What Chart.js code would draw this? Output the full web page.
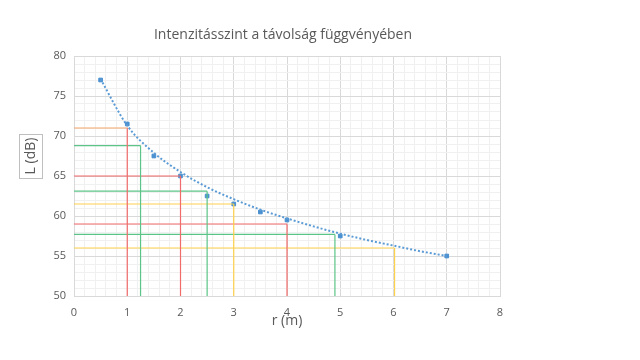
<!DOCTYPE html>
<html>
<head>
<meta charset="utf-8">
<script src="https://cdn.jsdelivr.net/npm/chart.js"></script>
<style>
    html, body { margin: 0; padding: 0; background: #fff; }
    #wrap { width: 640px; height: 360px; position: relative; }
</style>
</head>
<body>
<div id="wrap"><canvas id="chart"></canvas></div>
<script>
// measured points
const rValues = [0.5, 1, 1.5, 2, 2.5, 3, 3.5, 4, 5, 7];
const lValues = [77, 71.5, 67.5, 65, 62.5, 61.5, 60.5, 59.5, 57.5, 55];
// dotted trend line
const trendR = [0.5, 1, 1.5, 2, 2.5, 3, 3.5, 4, 4.5, 5, 5.5, 6, 6.5, 7];
const trendL = [77.1, 71.3, 67.9, 65.5, 63.6, 62.1, 60.8, 59.7, 58.7, 57.8, 57.0, 56.3, 55.6, 55.0];
// helper lines: horizontal from r=0, then down to the axis
const dropR = [1, 1.25, 2, 2.5, 3, 4, 4.9, 6.02];
const dropL = [71, 68.8, 65, 63.1, 61.5, 59, 57.7, 56];
const dropHColors = ['#f4a36b', '#5cc488', '#f26b6b', '#5cc488', '#ffd24d', '#f26b6b', '#5cc488', '#ffd24d'];
const dropVColors = ['#f26b6b', '#5cc488', '#f26b6b', '#5cc488', '#ffd24d', '#f26b6b', '#5cc488', '#ffd24d'];
const yTicks = [50, 55, 60, 65, 70, 75, 80];
const xTicks = [0, 1, 2, 3, 4, 5, 6, 7, 8];

const FONT = '"Open Sans", "DejaVu Sans", sans-serif';
const TXT = '#595959';

function isMajor(v, list) {
    return list.some(t => Math.abs(t - v) < 1e-6);
}

const datasets = [];
dropR.forEach((r, i) => {
    datasets.push({
        data: [{ x: 0, y: dropL[i] }, { x: r, y: dropL[i] }],
        borderColor: dropHColors[i], borderWidth: 1.2, pointRadius: 0
    });
    datasets.push({
        data: [{ x: r, y: dropL[i] }, { x: r, y: 50 }],
        borderColor: dropVColors[i], borderWidth: 1.2, pointRadius: 0
    });
});
datasets.push({
    data: trendR.map((r, i) => ({ x: r, y: trendL[i] })),
    borderColor: '#5b9bd5', borderWidth: 2, borderDash: [2, 2],
    pointRadius: 0, cubicInterpolationMode: 'monotone'
});
datasets.push({
    data: rValues.map((r, i) => ({ x: r, y: lValues[i] })),
    showLine: false, pointStyle: 'rect', pointRadius: 2.6,
    pointBackgroundColor: '#4a90d0', pointBorderColor: '#4a90d0'
});

// title and axis titles drawn at the spots they have in the original
const chartTexts = {
    id: 'chartTexts',
    afterDraw(chart) {
        const c = chart.ctx;
        c.save();
        c.fillStyle = TXT;
        c.textAlign = 'center';
        c.textBaseline = 'middle';
        c.font = '14px ' + FONT;
        c.fillText('Intenzitásszint a távolság függvényében', 283, 35);
        c.fillText('r (m)', 287, 321);
        c.strokeStyle = '#bfbfbf';
        c.lineWidth = 1;
        c.strokeRect(19.5, 134.5, 23, 44);
        c.translate(31, 156);
        c.rotate(-Math.PI / 2);
        c.fillText('L (dB)', 0, 0);
        c.restore();
    }
};

new Chart(document.getElementById('chart'), {
    type: 'line',
    data: { datasets: datasets },
    plugins: [chartTexts],
    options: {
        responsive: true,
        maintainAspectRatio: false,
        animation: false,
        layout: { padding: { left: 0, right: 140, top: 56, bottom: 0 } },
        plugins: {
            legend: { display: false },
            tooltip: { enabled: false }
        },
        scales: {
            x: {
                type: 'linear', min: 0, max: 8,
                afterFit: s => { s.height = 64; },
                ticks: {
                    stepSize: 0.2, autoSkip: false, maxRotation: 0,
                    padding: 10, color: TXT, font: { family: FONT, size: 11 },
                    callback: v => isMajor(v, xTicks) ? Math.round(v) : ''
                },
                grid: {
                    drawTicks: false,
                    color: ctx => isMajor(ctx.tick.value, xTicks) ? '#d9d9d9' : '#f0f0f0'
                },
                border: { color: '#d9d9d9' }
            },
            y: {
                min: 50, max: 80,
                afterFit: s => { s.width = 74; },
                ticks: {
                    stepSize: 1, autoSkip: false,
                    padding: 8, color: TXT, font: { family: FONT, size: 11 },
                    callback: v => isMajor(v, yTicks) ? Math.round(v) : ''
                },
                grid: {
                    drawTicks: false,
                    color: ctx => isMajor(ctx.tick.value, yTicks) ? '#d9d9d9' : '#f0f0f0'
                },
                border: { color: '#d9d9d9' }
            }
        }
    }
});
</script>
</body>
</html>
